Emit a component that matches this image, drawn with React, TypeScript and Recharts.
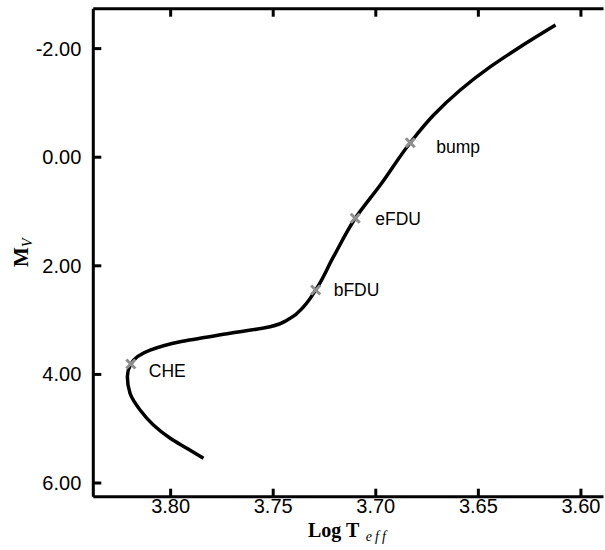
import {
  ComposedChart,
  Line,
  Scatter,
  XAxis,
  YAxis,
  Label,
} from "recharts";

// evolutionary track
const trackLogT = [
  3.784, 3.7921, 3.8002, 3.8084, 3.8149, 3.8198, 3.8211, 3.8194, 3.81, 3.7954,
  3.771, 3.7515, 3.7417, 3.7352, 3.7293, 3.7206, 3.71, 3.6978, 3.6832, 3.6718,
  3.6588, 3.6441, 3.6295, 3.6124,
];
const trackMv = [
  5.545, 5.361, 5.177, 4.932, 4.656, 4.348, 4.042, 3.808, 3.551, 3.398, 3.243,
  3.122, 2.967, 2.753, 2.446, 1.832, 1.125, 0.512, -0.267, -0.777, -1.238,
  -1.667, -2.035, -2.435,
];

const markerNames = ["CHE", "bFDU", "eFDU", "bump"];
const markerLogT = [3.8194, 3.7293, 3.71, 3.6832];
const markerMv = [3.808, 2.446, 1.125, -0.267];

const xTicks = [3.8, 3.75, 3.7, 3.65, 3.6];
const yTicks = [-2, 0, 2, 4, 6];

const labelOffset: Record<string, [number, number]> = {
  CHE: [18, 13],
  bFDU: [18, 6],
  eFDU: [20, 7],
  bump: [26, 10],
};

const trackData = trackLogT.map((t, i) => ({ logT: t, mv: trackMv[i] }));
const markerData = markerNames.map((n, i) => ({
  name: n,
  logT: markerLogT[i],
  mv: markerMv[i],
}));

const SANS = "'Liberation Sans', Arial, sans-serif";
const SERIF = "'Liberation Serif', 'Times New Roman', serif";
const TICK_LEN = 8;

const BottomTick = (props: any) => {
  const { x, y, payload } = props;
  return (
    <g>
      <line x1={x} y1={y} x2={x} y2={y - TICK_LEN} stroke="#000" strokeWidth={3} />
      <text x={x} y={y + 16} textAnchor="middle" fontFamily={SANS} fontSize={20} fill="#000">
        {Number(payload.value).toFixed(2)}
      </text>
    </g>
  );
};

const TopTick = (props: any) => {
  const { x, y } = props;
  return <line x1={x} y1={y} x2={x} y2={y + TICK_LEN} stroke="#000" strokeWidth={3} />;
};

const LeftTick = (props: any) => {
  const { x, y, payload } = props;
  return (
    <g>
      <line x1={x} y1={y} x2={x + TICK_LEN} y2={y} stroke="#000" strokeWidth={3} />
      <text x={x - 12} y={y + 7} textAnchor="end" fontFamily={SANS} fontSize={20} fill="#000">
        {Number(payload.value).toFixed(2)}
      </text>
    </g>
  );
};

const RightTick = (props: any) => {
  const { x, y } = props;
  return <line x1={x} y1={y} x2={x - TICK_LEN} y2={y} stroke="#000" strokeWidth={3} />;
};

const CrossMarker = (props: any) => {
  const { cx, cy, payload } = props;
  if (cx === undefined || cy === undefined) return <g />;
  const [dx, dy] = labelOffset[payload.name] || [18, 6];
  const s = 4.5;
  return (
    <g>
      <line x1={cx - s} y1={cy - s} x2={cx + s} y2={cy + s} stroke="#8f8f8f" strokeWidth={3} />
      <line x1={cx - s} y1={cy + s} x2={cx + s} y2={cy - s} stroke="#8f8f8f" strokeWidth={3} />
      <text x={cx + dx} y={cy + dy} fontFamily={SANS} fontSize={17.5} fill="#000">
        {payload.name}
      </text>
    </g>
  );
};

const XTitle = (props: any) => {
  const { viewBox } = props;
  const cx = viewBox.x + viewBox.width / 2;
  return (
    <text x={cx} y={viewBox.y + 40} textAnchor="middle" fontFamily={SERIF} fontSize={20} fontWeight="bold" fill="#000">
      Log T
      <tspan fontStyle="italic" fontWeight="normal" fontSize={14} letterSpacing={3} dy={4}>
        {" "}eff
      </tspan>
    </text>
  );
};

const YTitle = (props: any) => {
  const { viewBox } = props;
  const cy = viewBox.y + viewBox.height / 2;
  const x = 28;
  return (
    <text x={x} y={cy} transform={`rotate(-90, ${x}, ${cy})`} textAnchor="middle" fontFamily={SERIF} fontSize={21} fontWeight="bold" fill="#000">
      M
      <tspan fontSize={14} fontStyle="italic" fontWeight="normal" dy={4}>
        V
      </tspan>
    </text>
  );
};

export default function App() {
  const xDomain = [3.589, 3.8377];
  const yDomain = [-2.735, 6.252];
  return (
    <div style={{ position: "absolute", left: 0, top: 0, background: "#fff" }}>
      <ComposedChart
        width={605}
        height={550}
        margin={{ top: 0, right: 1.5, bottom: 0, left: 0 }}
      >
        <XAxis
          xAxisId="b"
          dataKey="logT"
          type="number"
          orientation="bottom"
          reversed
          domain={xDomain}
          allowDataOverflow
          ticks={xTicks}
          interval={0}
          height={53.3}
          tickSize={0}
          tickMargin={0}
          tickLine={false}
          tick={<BottomTick />}
          axisLine={{ stroke: "#000", strokeWidth: 3 }}
        >
          <Label content={<XTitle />} />
        </XAxis>
        <XAxis
          xAxisId="t"
          dataKey="logT"
          type="number"
          orientation="top"
          reversed
          domain={xDomain}
          allowDataOverflow
          ticks={xTicks}
          interval={0}
          height={8.7}
          tickSize={0}
          tickMargin={0}
          tickLine={false}
          tick={<TopTick />}
          axisLine={{ stroke: "#000", strokeWidth: 3 }}
        />
        <YAxis
          yAxisId="l"
          dataKey="mv"
          type="number"
          orientation="left"
          reversed
          domain={yDomain}
          allowDataOverflow
          ticks={yTicks}
          interval={0}
          width={93.3}
          tickSize={0}
          tickMargin={0}
          tickLine={false}
          tick={<LeftTick />}
          axisLine={{ stroke: "#000", strokeWidth: 3 }}
        >
          <Label content={<YTitle />} />
        </YAxis>
        <YAxis
          yAxisId="r"
          dataKey="mv"
          type="number"
          orientation="right"
          reversed
          domain={yDomain}
          allowDataOverflow
          ticks={yTicks}
          interval={0}
          width={0}
          tickSize={0}
          tickMargin={0}
          tickLine={false}
          tick={<RightTick />}
          axisLine={{ stroke: "#000", strokeWidth: 3 }}
        />
        <Line
          xAxisId="b"
          yAxisId="l"
          data={trackData}
          dataKey="mv"
          type="monotoneY"
          stroke="#000"
          strokeWidth={3.5}
          dot={false}
          activeDot={false}
          isAnimationActive={false}
        />
        <Scatter
          xAxisId="b"
          yAxisId="l"
          data={markerData}
          dataKey="mv"
          shape={<CrossMarker />}
          isAnimationActive={false}
        />
      </ComposedChart>
    </div>
  );
}
